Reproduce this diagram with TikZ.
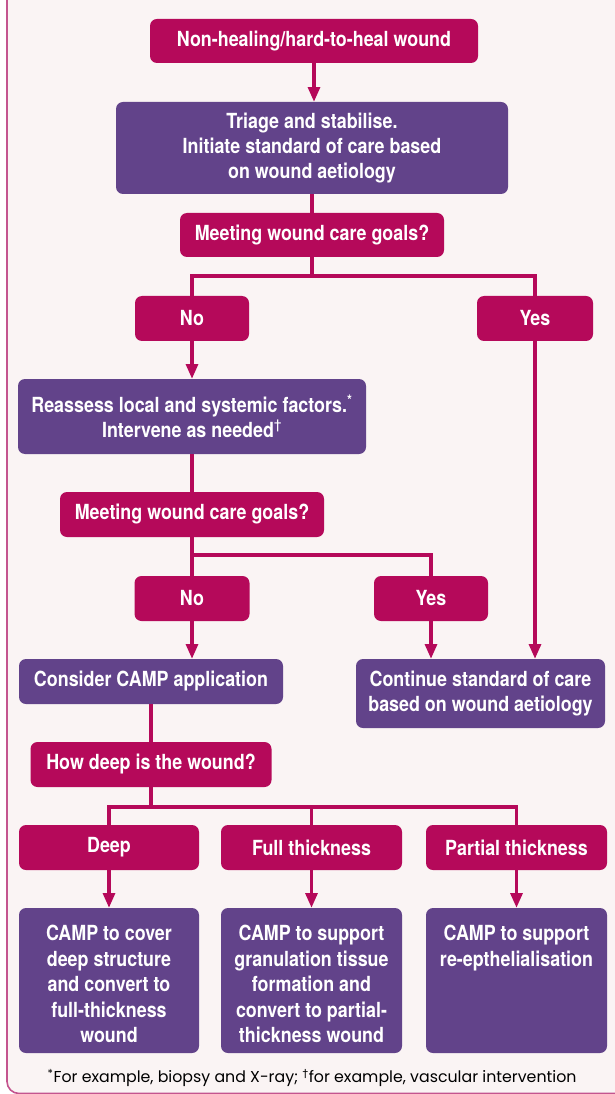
\documentclass[tikz,border=0pt]{standalone}
\usepackage{fontspec}
\setmainfont{TeX Gyre Heros}[FakeStretch=0.86]
\newfontfamily\footfont{Poppins}
\newfontfamily\symfont{DejaVu Sans}
\usetikzlibrary{arrows.meta}
\definecolor{mag}{HTML}{B5095A}
\definecolor{purp}{HTML}{62438A}
\definecolor{bgpink}{HTML}{FAF4F4}
\definecolor{framec}{HTML}{C4558F}
\begin{document}
\begin{tikzpicture}[x=0.75pt,y=-0.75pt,
  box/.style={rounded corners=5.25pt, draw=none, text=white,
    font=\bfseries\fontsize{15.6}{19.1}\selectfont, align=center,
    inner sep=0pt, anchor=center},
  sz/.style 2 args={minimum width=#1*0.75pt, minimum height=#2*0.75pt},
  magbox/.style={box, fill=mag},
  purpbox/.style={box, fill=purp},
  boxtext/.style={text=white, font=\bfseries\fontsize{15.6}{19.1}\selectfont,
    align=center, inner sep=0pt, anchor=north},
  conn/.style={draw=mag, line width=2.3pt},
  arr/.style={conn, -{Triangle[length=11pt,width=9pt]}}]
\useasboundingbox (0,0) rectangle (614,1094);
% frame
\draw[fill=bgpink, draw=framec, line width=1.2pt, rounded corners=9pt]
  (7,-40) rectangle (680,1093.5);

% nodes
\node[magbox, sz={328}{44}] (n1) at (314,41) {Non-healing/hard-to-heal wound};
\node[purpbox, sz={392}{92}] (n2) at (312,148) {Triage and stabilise.\\Initiate standard of care based\\on wound aetiology};
\node[magbox, sz={264}{44}] (n3) at (312,235) {Meeting wound care goals?};
\node[magbox, sz={114}{45}] (no1) at (192,318.5) {No};
\node[magbox, sz={116}{45}] (yes1) at (535,318.5) {Yes};
\node[purpbox, sz={348}{75}] (n4) at (192,416.5) {Reassess local and systemic factors.\textsuperscript{*}\\Intervene as needed\textsuperscript{\symfont\mdseries †}};
\node[magbox, sz={264}{45}] (n5) at (192,514.5) {Meeting wound care goals?};
\node[magbox, sz={115}{45}] (no2) at (192,598.5) {No};
\node[magbox, sz={114}{45}] (yes2) at (431,598.5) {Yes};
\node[purpbox, sz={264}{45}] (n6) at (151,681.5) {Consider CAMP application};
\node[purpbox, sz={249}{69}] (n7) at (480.5,693.5) {Continue standard of care\\based on wound aetiology};
\node[magbox, sz={241}{45}] (n8) at (151,764.5) {How deep is the wound?};
\node[magbox, sz={180}{45}] (deep) at (109,847.5) {Deep};
\node[magbox, sz={181}{45}] (full) at (311.5,847.5) {Full thickness};
\node[magbox, sz={181}{45}] (part) at (516.5,847.5) {Partial thickness};
\node[purpbox, sz={180}{145}] (b1) at (109,980.5) {};
\node[purpbox, sz={181}{145}] (b2) at (311.5,980.5) {};
\node[purpbox, sz={181}{145}] (b3) at (516.5,980.5) {};
\node[boxtext] (b1t) at (109,925) {CAMP to cover\\deep structure\\and convert to\\full-thickness\\wound};
\node[boxtext] (b2t) at (311.5,925) {CAMP to support\\granulation tissue\\formation and\\convert to partial-\\thickness wound};
\node[boxtext] (b3t) at (516.5,925) {CAMP to support\\re-epthelialisation};

\node[font=\footfont\fontsize{11.85}{13}\selectfont, inner sep=0pt] (foot) at (312,1078)
  {\textsuperscript{*}For example, biopsy and X-ray; \textsuperscript{\symfont †}for example, vascular intervention};

% junction coordinates
\coordinate (j1) at (312,276);
\coordinate (j2) at (192,555);
\coordinate (j3) at (151,807);

% connectors
\draw[arr] (n1.south) -- (n1.south |- n2.north);
\draw[conn] (n2.south) -- (n3.north);
\draw[conn] (n3.south) -- (j1);
\draw[conn] (j1) -| (no1.north);
\draw[conn] (j1) -| (yes1.north);
\draw[arr] (no1.south) -- (n4.north);
\draw[conn] (n4.south) -- (n5.north);
\draw[conn] (n5.south) -- (j2) -- (no2.north);
\draw[conn] (j2) -| (yes2.north);
\draw[arr] (no2.south) -- (no2.south |- n6.north);
\draw[arr] (yes2.south) -- (yes2.south |- n7.north);
\draw[arr] (yes1.south) -- (yes1.south |- n7.north);
\draw[conn] (n6.south) -- (n8.north);
\draw[conn] (n8.south) -- (j3);
\draw[conn] (j3) -| (deep.north);
\draw[conn] (j3) -| (part.north);
\draw[conn] (full.north) -- (full.north |- j3);
\draw[arr] (deep.south) -- (b1.north);
\draw[arr] (full.south) -- (b2.north);
\draw[arr] (part.south) -- (b3.north);
\end{tikzpicture}
\end{document}
